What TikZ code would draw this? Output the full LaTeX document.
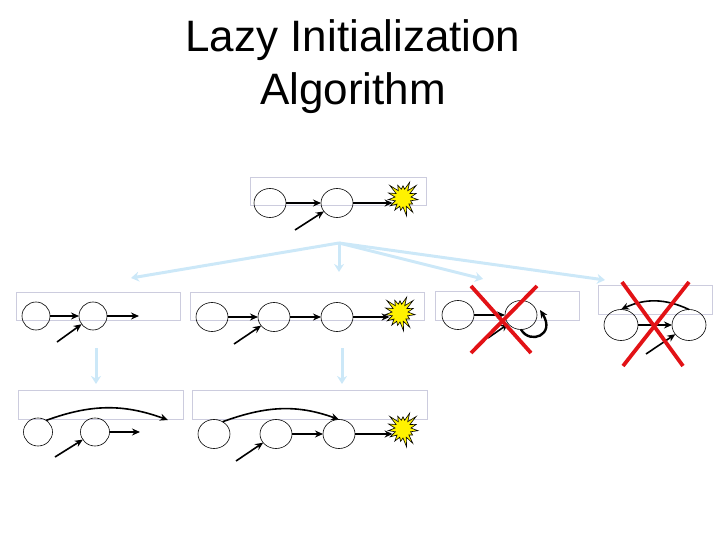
\documentclass[tikz,border=0pt]{standalone}
\usepackage{fontspec}
\setmainfont{Liberation Sans}
\usepackage{tikz}
\usetikzlibrary{shapes.geometric,shapes.symbols,arrows.meta}
\definecolor{frame}{RGB}{204,204,222}
\definecolor{pale}{RGB}{204,232,248}
\definecolor{cross}{RGB}{226,18,22}
\tikzset{
  ttl/.style={align=center,font=\fontsize{44}{53}\selectfont,inner sep=0pt},
  lst/.style={draw=frame,line width=0.8pt,inner sep=0pt},
  cell/.style={draw,ellipse,line width=0.6pt,fill=none,inner sep=0pt,outer sep=0pt,minimum width=32pt,minimum height=29pt},
  flash/.style={draw,fill=yellow,starburst,starburst points=15,starburst point height=10pt,random starburst=3,minimum width=36pt,minimum height=38pt,inner sep=0pt,outer sep=0pt,line width=0.6pt},
  ptr/.style={-{Stealth[length=8pt,width=7pt]},line width=1.6pt},
  fat/.style={-{Stealth[length=8pt,width=7pt]},line width=2.4pt},
  step arrow/.style={-{Stealth[length=8pt,width=10pt]},draw=pale,line width=3pt},
  kill/.style={draw=cross,line width=3.8pt}
}
\begin{document}
\begin{tikzpicture}[x=1pt,y=-1pt]
\useasboundingbox (0,0) rectangle (720,540);
\node[ttl] (title) at (353,67) {Lazy Initialization\\Algorithm};
% lists
\node[lst,minimum width=176pt,minimum height=28pt] (top) at (338,191) {};
\node[lst,minimum width=164pt,minimum height=28pt] (l1) at (98,306) {};
\node[lst,minimum width=234pt,minimum height=28pt] (l2) at (307,306) {};
\node[lst,minimum width=144pt,minimum height=29pt] (l3) at (507,305.5) {};
\node[lst,minimum width=114pt,minimum height=29pt] (l4) at (655,299.5) {};
\node[lst,minimum width=165pt,minimum height=29pt] (l5) at (100.5,404.5) {};
\node[lst,minimum width=235pt,minimum height=29pt] (l6) at (309.5,404.5) {};
% flashes
\node[flash] (f0) at (403,198) {};
\node[flash] (f2) at (400,313) {};
\node[flash] (f6) at (403,429) {};
% top row
\node[cell] (t1) at (270,203) {};
\node[cell] (t2) at (337,203) {};
\coordinate (ts) at (295,230);
\draw[ptr] (t1)--(t2); \draw[ptr] (t2)--(t2-|f0.west); \draw[ptr] (ts)--(t2);
% first
\node[cell,minimum width=28pt,minimum height=28pt] (a1) at (36,316) {};
\node[cell,minimum width=28pt,minimum height=28pt] (a2) at (93,316) {};
\coordinate (as) at (57,342);
\coordinate (ae) at (139,316);
\draw[ptr] (a1)--(a2); \draw[ptr] (a2)--(ae); \draw[ptr] (as)--(a2);
% second
\node[cell] (b1) at (212,317) {};
\node[cell] (b2) at (274,317) {};
\node[cell] (b3) at (337,317) {};
\coordinate (bs) at (234,344);
\draw[ptr] (b1)--(b2); \draw[ptr] (b2)--(b3); \draw[fat] (b3)--(b3-|f2.west); \draw[ptr] (bs)--(b2);
% third
\node[cell] (c1) at (458,315) {};
\node[cell] (c2) at (521,315) {};
\coordinate (cs) at (488,338);
\coordinate (ct) at (540,310);
\draw[ptr] (c1)--(c2); \draw[ptr] (cs)--(c2);
\draw[fat] (c2.-90) .. controls (530,345) and (556,335) .. (ct);
% fourth
\node[cell,minimum width=34pt,minimum height=31pt] (d1) at (621,325) {};
\node[cell,minimum width=34pt,minimum height=31pt] (d2) at (689,325) {};
\coordinate (ds) at (646,354);
\draw[ptr] (d1)--(d2); \draw[ptr] (ds)--(d2);
\draw[ptr] (d2.north) to[out=155,in=25] (d1.north);
% fifth
\node[cell,minimum width=29pt,minimum height=28pt] (e1) at (38,432) {};
\node[cell,minimum width=29pt,minimum height=28pt] (e2) at (95,432) {};
\coordinate (es) at (55,457);
\coordinate (ee) at (140,432);
\coordinate (ec) at (168,420);
\draw[ptr] (e2)--(ee); \draw[ptr] (es)--(e2);
\draw[ptr] (e1.55) to[out=20,in=160] (ec);
% sixth
\node[cell] (g1) at (214,434) {};
\node[cell] (g2) at (276,434) {};
\node[cell] (g3) at (339,434) {};
\coordinate (gs) at (236,461);
\draw[ptr] (g2)--(g3); \draw[fat] (g3)--(g3-|f6.west); \draw[ptr] (gs)--(g2);
\draw[ptr] (g1.55) to[out=20,in=160] (g3.north);
% steps between the lists
\coordinate (hub) at (339,243);
\coordinate (s1) at (131,278);
\coordinate (s2) at (339,272);
\coordinate (s3) at (483,279);
\coordinate (s4) at (605,280);
\coordinate (s5a) at (96,348);
\coordinate (s5b) at (96,384);
\coordinate (s6a) at (342,348);
\coordinate (s6b) at (342,384);
\draw[step arrow] (hub)--(s1); \draw[step arrow] (hub)--(s2);
\draw[step arrow] (hub)--(s3); \draw[step arrow] (hub)--(s4);
\draw[step arrow] (s5a)--(s5b); \draw[step arrow] (s6a)--(s6b);
% crosses
\coordinate (x1) at (471,286); \coordinate (x2) at (531,353);
\coordinate (x3) at (537,286); \coordinate (x4) at (471,353);
\coordinate (y1) at (622,282); \coordinate (y2) at (683,366);
\coordinate (y3) at (689,282); \coordinate (y4) at (623,366);
\draw[kill] (x1)--(x2); \draw[kill] (x3)--(x4);
\draw[kill] (y1)--(y2); \draw[kill] (y3)--(y4);
\end{tikzpicture}
\end{document}
